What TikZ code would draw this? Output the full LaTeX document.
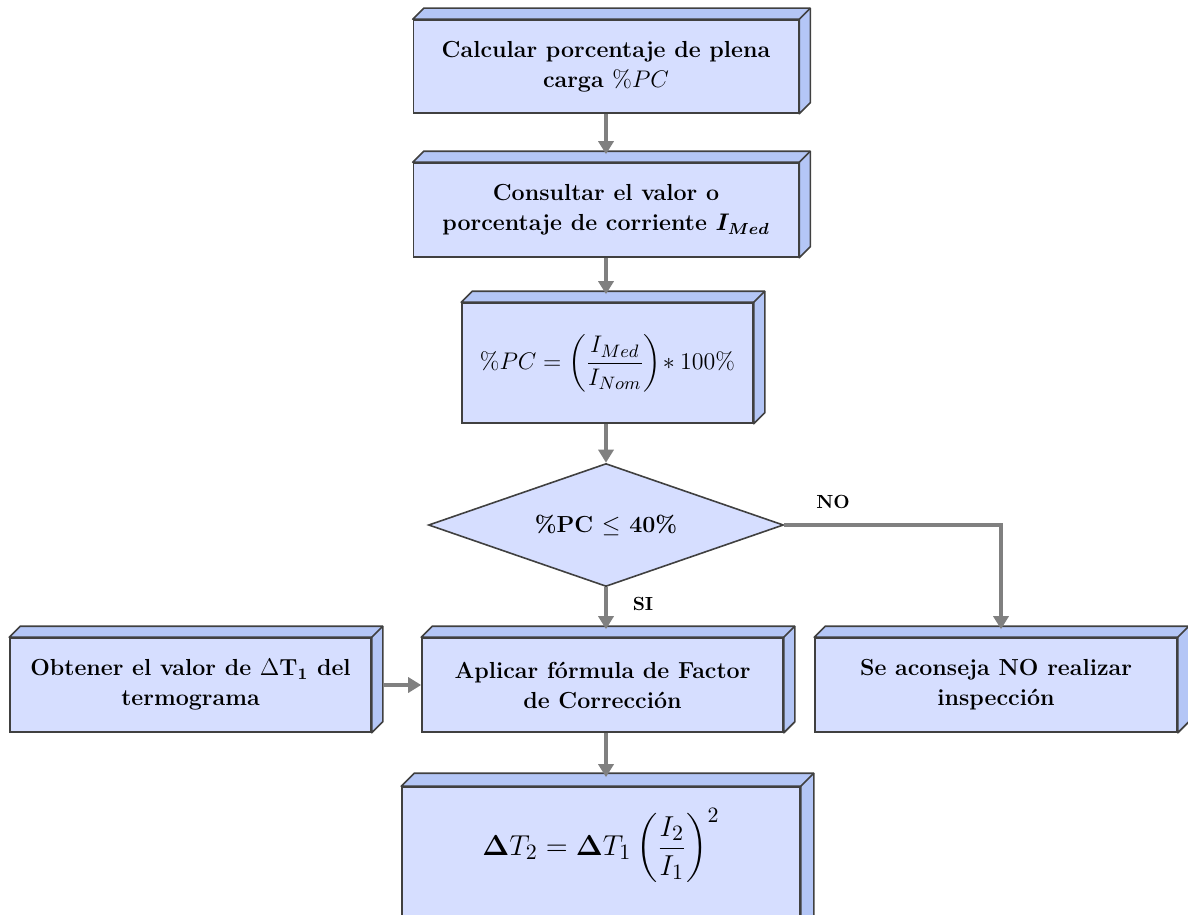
\documentclass[tikz,border=0pt]{standalone}
\usepackage{amsmath}
\usepackage{tikz}
\usetikzlibrary{positioning, arrows.meta, shapes.geometric, calc}
\definecolor{faceblue}{RGB}{214,222,255}
\definecolor{sideblue}{RGB}{180,198,246}
\definecolor{edgegray}{RGB}{64,64,64}
\definecolor{flowgray}{RGB}{128,128,128}
\newcommand{\slab}[2]{%
  \filldraw[fill=sideblue, draw=edgegray, line width=0.8pt, line join=round]
    (#1.north west) -- ++(#2,#2) -- ($(#1.north east)+(#2,#2)$) -- ($(#1.south east)+(#2,#2)$)
    -- (#1.south east) -- (#1.north east) -- cycle;
  \draw[edgegray, line width=0.8pt] (#1.north east) -- ++(#2,#2);
}

\begin{document}
\begin{tikzpicture}[
    x=0.5pt, y=-0.5pt,
    blk/.style={draw=edgegray, line width=0.8pt, fill=faceblue, align=center, inner sep=0pt,
        font=\bfseries\fontsize{11.6}{15}\selectfont},
    test/.style={draw=edgegray, line width=0.8pt, fill=faceblue, diamond, aspect=2.89, inner sep=0pt,
        font=\bfseries\fontsize{11.6}{15}\selectfont},
    flow/.style={draw=flowgray, line width=2pt, -{Triangle[width=7.5pt,length=6.5pt]}},
    tag/.style={font=\bfseries\fontsize{9.5}{11}\selectfont},
]
\useasboundingbox (0,0) rectangle (1188,915);
\clip (0,0) rectangle (1188,915);

\node[blk, minimum width=192.5pt, minimum height=46.5pt] (calc) at (606,66.5)
    {Calcular porcentaje de plena\\carga $\%PC$};
\node[blk, minimum width=192.5pt, minimum height=47pt] (cons) at (606,210)
    {Consultar el valor o\\porcentaje de corriente $\boldsymbol{I_{Med}}$};
\node[blk, minimum width=145.5pt, minimum height=60pt, font=\fontsize{12.5}{15}\selectfont] (pc) at (607.5,363)
    {$\displaystyle \%PC=\left(\frac{I_{Med}}{I_{Nom}}\right)\!*100\%$};
\node[test, minimum width=177.5pt, minimum height=61.5pt] (cond) at (606,525)
    {\%PC~$\leq$ 40\%};
\node[blk, minimum width=180.5pt, minimum height=47pt] (obt) at (190.5,685)
    {Obtener el valor de $\Delta$T$_{\mathbf{1}}$ del\\termograma};
\node[blk, minimum width=180.5pt, minimum height=47pt] (apl) at (602.5,685)
    {Aplicar fórmula de Factor\\de Corrección};
\node[blk, minimum width=181pt, minimum height=47pt] (noins) at (996,685)
    {Se aconseja NO realizar\\inspección};
\node[blk, minimum width=199pt, minimum height=80pt, font=\fontsize{15}{18}\selectfont] (fc) at (601,867)
    {\raisebox{5.75pt}[0pt][0pt]{$\displaystyle \boldsymbol{\Delta} T_2=\boldsymbol{\Delta} T_1\left(\frac{I_2}{I_1}\right)^{2}$}};

\slab{calc}{5.5pt}
\slab{cons}{5.5pt}
\slab{pc}{5.5pt}
\slab{obt}{5.5pt}
\slab{apl}{5.5pt}
\slab{noins}{5.5pt}
\slab{fc}{6.5pt}

\draw[flow] (calc.south) -- ([yshift=4pt]cons.north);
\draw[flow] (cons.south) -- ([yshift=4pt]cons.south |- pc.north);
\draw[flow] (cons.south |- pc.south) -- (cond.north);
\draw[flow] (cond.south) -- ([yshift=4pt]cond.south |- apl.north);
\draw[flow] (cond.east) -| ([xshift=2.5pt, yshift=4pt]noins.north);
\draw[flow] ([xshift=5.5pt]obt.east) -- (apl.west);
\draw[flow] (cond.south |- apl.south) -- ([yshift=4.5pt]cond.south |- fc.north);

\node[tag] (si) at (643,604) {SI};
\node[tag] (no) at (833,502) {NO};
\end{tikzpicture}
\end{document}
